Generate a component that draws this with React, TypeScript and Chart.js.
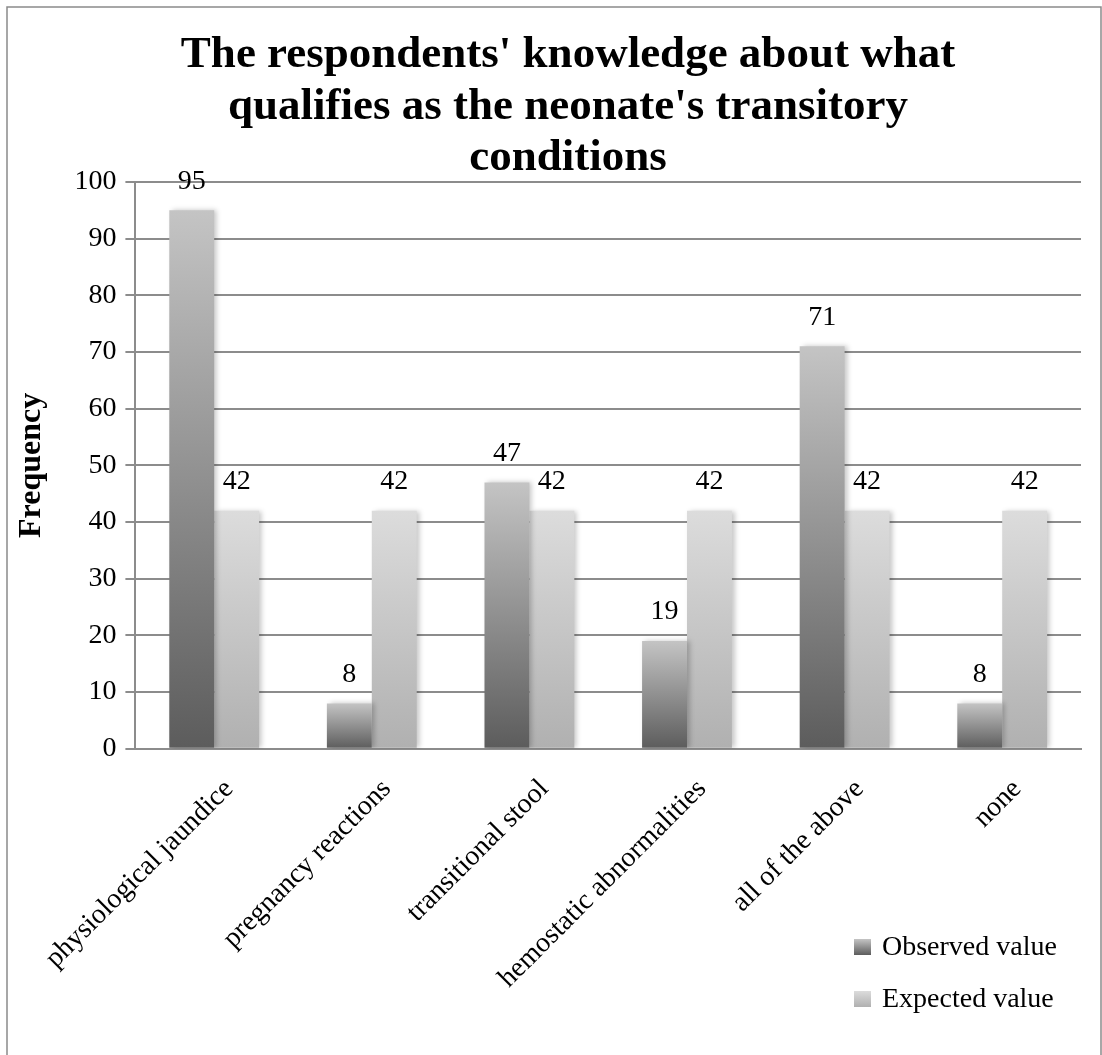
import React, { useEffect, useRef } from 'react';
import { Chart, registerables } from 'chart.js';

Chart.register(...registerables);

const categories = [
  'physiological jaundice',
  'pregnancy reactions',
  'transitional stool',
  'hemostatic abnormalities',
  'all of the above',
  'none',
];
const observedValues = [95, 8, 47, 19, 71, 8];
const expectedValues = [42, 42, 42, 42, 42, 42];
const seriesNames = ['Observed value', 'Expected value'];
const titleLines = [
  "The respondents' knowledge about what",
  "qualifies as the neonate's transitory",
  'conditions',
];
const yAxisTitle = 'Frequency';
const yMin = 0;
const yMax = 100;
const yStep = 10;

const FONT = '"Liberation Serif", "Times New Roman", serif';

const observedColors = { dark: '#5c5c5c', light: '#c4c4c4' };
const expectedColors = { dark: '#b0b0b0', light: '#dcdcdc' };

function barGradient(ctx: any, dark: string, light: string) {
  const chart = ctx.chart;
  if (!chart.chartArea || ctx.type !== 'data') return light;
  const yScale = chart.scales.y;
  const v = ctx.parsed ? ctx.parsed.y : ctx.raw;
  const top = yScale.getPixelForValue(v);
  const bottom = yScale.getPixelForValue(0);
  if (!isFinite(top) || !isFinite(bottom) || top === bottom) return light;
  const g = chart.ctx.createLinearGradient(0, bottom, 0, top);
  g.addColorStop(0, dark);
  g.addColorStop(1, light);
  return g;
}

const shadowPlugin = {
  id: 'barShadow',
  beforeDatasetsDraw(chart: any) {
    const c = chart.ctx;
    c.save();
    c.shadowColor = 'rgba(0,0,0,0.22)';
    c.shadowBlur = 5;
    c.shadowOffsetX = 3;
    c.shadowOffsetY = 0;
  },
  afterDatasetsDraw(chart: any) {
    chart.ctx.restore();
  },
};

const decorPlugin = {
  id: 'decor',
  afterDraw(chart: any) {
    const c = chart.ctx;
    c.save();
    // outer border
    c.strokeStyle = '#8a8a8a';
    c.lineWidth = 1.5;
    c.beginPath();
    c.moveTo(7, 1055);
    c.lineTo(7, 7);
    c.lineTo(1101, 7);
    c.lineTo(1101, 1055);
    c.stroke();

    // title
    c.fillStyle = '#000';
    c.font = `bold 45px ${FONT}`;
    c.textAlign = 'center';
    c.textBaseline = 'alphabetic';
    const baselines = [67, 118.5, 170];
    titleLines.forEach((t, i) => c.fillText(t, 568, baselines[i]));

    // value labels
    c.font = `28px ${FONT}`;
    c.textBaseline = 'middle';
    chart.data.datasets.forEach((ds: any, di: number) => {
      const meta = chart.getDatasetMeta(di);
      meta.data.forEach((el: any, i: number) => {
        c.fillText(String(ds.data[i]), el.x, el.y - 29);
      });
    });

    // legend
    const items = [
      { name: seriesNames[0], colors: observedColors, y: 947 },
      { name: seriesNames[1], colors: expectedColors, y: 999 },
    ];
    items.forEach((it) => {
      const g = c.createLinearGradient(0, it.y + 8, 0, it.y - 8);
      g.addColorStop(0, it.colors.dark);
      g.addColorStop(1, it.colors.light);
      c.fillStyle = g;
      c.fillRect(854, it.y - 8, 17, 16);
      c.fillStyle = '#000';
      c.textAlign = 'left';
      c.textBaseline = 'middle';
      c.font = `28px ${FONT}`;
      c.fillText(it.name, 882, it.y + 1);
    });
    c.restore();
  },
};

export default function App() {
  const canvasRef = useRef<HTMLCanvasElement | null>(null);

  useEffect(() => {
    document.body.style.margin = '0';
    const canvas = canvasRef.current;
    if (!canvas) return;
    const chart = new Chart(canvas, {
      type: 'bar',
      data: {
        labels: categories,
        datasets: [
          {
            label: seriesNames[0],
            data: observedValues,
            backgroundColor: (ctx: any) => barGradient(ctx, observedColors.dark, observedColors.light),
            borderWidth: 0,
            categoryPercentage: 0.57,
            barPercentage: 1,
          },
          {
            label: seriesNames[1],
            data: expectedValues,
            backgroundColor: (ctx: any) => barGradient(ctx, expectedColors.dark, expectedColors.light),
            borderWidth: 0,
            categoryPercentage: 0.57,
            barPercentage: 1,
          },
        ],
      },
      options: {
        responsive: false,
        animation: false,
        devicePixelRatio: 1,
        layout: { padding: { left: 11, right: 21, top: 182, bottom: 44 } },
        plugins: {
          legend: { display: false },
          title: { display: false },
          tooltip: { enabled: false },
        },
        scales: {
          x: {
            grid: { display: false },
            border: { display: true, color: '#8c8c8c', width: 2 },
            ticks: {
              color: '#000',
              font: { family: FONT, size: 28 },
              minRotation: 45,
              maxRotation: 45,
              autoSkip: false,
              padding: 16,
              labelOffset: 15,
            },
          },
          y: {
            min: yMin,
            max: yMax,
            ticks: {
              stepSize: yStep,
              color: '#000',
              font: { family: FONT, size: 28 },
              padding: 9,
            },
            grid: { color: '#8c8c8c', lineWidth: 2, tickLength: 10, drawTicks: true },
            border: { display: true, color: '#8c8c8c', width: 2 },
            title: {
              display: true,
              text: yAxisTitle,
              color: '#000',
              font: { family: FONT, size: 32, weight: 'bold' },
              padding: { top: 2, bottom: 14 },
            },
          },
        },
      },
      plugins: [shadowPlugin, decorPlugin],
    });
    return () => chart.destroy();
  }, []);

  return (
    <div style={{ width: 1102, height: 1055, position: 'relative', background: '#fff' }}>
      <canvas ref={canvasRef} width={1102} height={1055} style={{ display: 'block' }} />
    </div>
  );
}
